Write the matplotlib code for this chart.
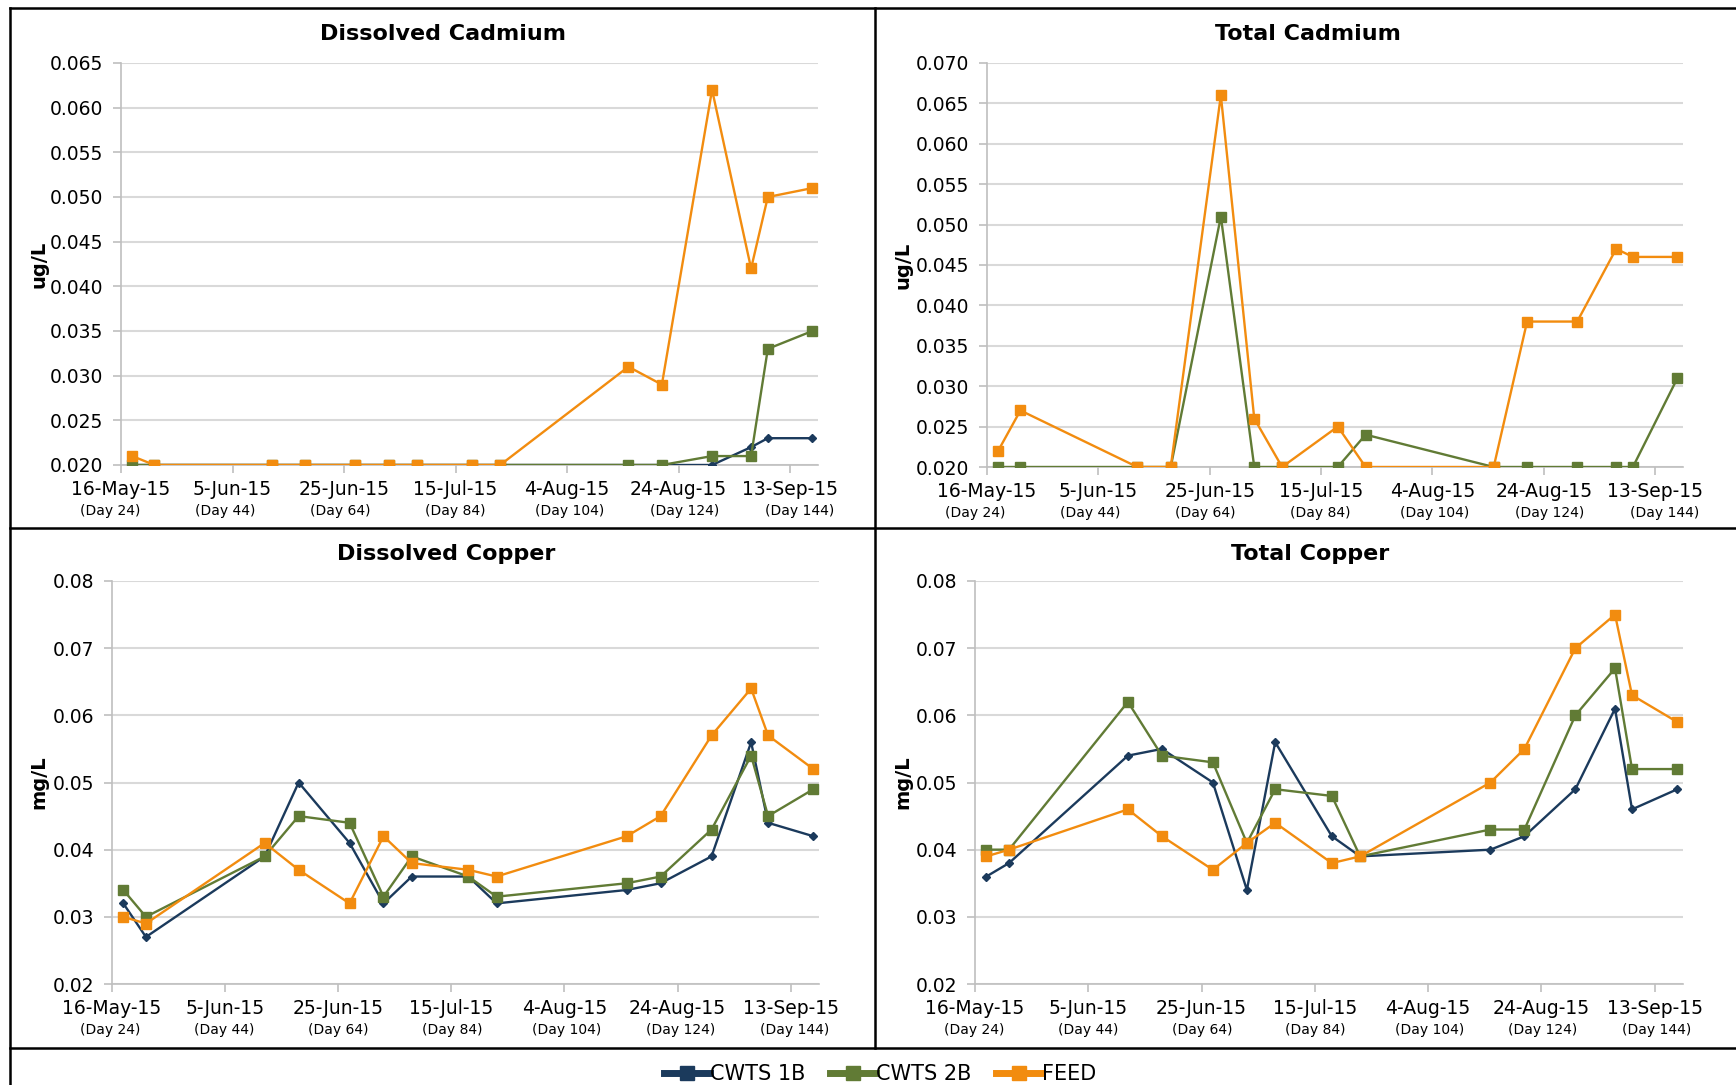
import numpy as np
import matplotlib.pyplot as plt
from matplotlib.lines import Line2D
from matplotlib.ticker import FormatStrFormatter, MultipleLocator

W, H = 1736, 1085

# sample days (Day 0 = 22-Apr-15)
days = [26, 30, 51, 57, 66, 72, 77, 87, 92, 115, 121, 130, 137, 140, 148]
tick_days = [24, 44, 64, 84, 104, 124, 144]
tick_dates = ['16-May-15', '5-Jun-15', '25-Jun-15', '15-Jul-15', '4-Aug-15', '24-Aug-15', '13-Sep-15']
day_labels = ['(Day %d)' % d for d in tick_days]
series_names = ['CWTS 1B', 'CWTS 2B', 'FEED']

nan = np.nan

# Dissolved Cadmium (ug/L)
dcd_1b = [0.020, 0.020, 0.020, 0.020, 0.020, 0.020, 0.020, 0.020, 0.020, 0.020, 0.020, 0.020, 0.022, 0.023, 0.023]
dcd_2b = [0.020, 0.020, 0.020, 0.020, 0.020, 0.020, 0.020, 0.020, 0.020, 0.020, 0.020, 0.021, 0.021, 0.033, 0.035]
dcd_feed = [0.021, 0.020, 0.020, 0.020, 0.020, 0.020, 0.020, 0.020, 0.020, 0.031, 0.029, 0.062, 0.042, 0.050, 0.051]

# Total Cadmium (ug/L) - no CWTS 1B values
tcd_1b = [nan] * 15
tcd_2b = [0.020, 0.020, 0.020, 0.020, 0.051, 0.020, 0.020, 0.020, 0.024, 0.020, 0.020, 0.020, 0.020, 0.020, 0.031]
tcd_feed = [0.022, 0.027, 0.020, 0.020, 0.066, 0.026, 0.020, 0.025, 0.020, 0.020, 0.038, 0.038, 0.047, 0.046, 0.046]

# Dissolved Copper (mg/L)
dcu_1b = [0.032, 0.027, 0.039, 0.050, 0.041, 0.032, 0.036, 0.036, 0.032, 0.034, 0.035, 0.039, 0.056, 0.044, 0.042]
dcu_2b = [0.034, 0.030, 0.039, 0.045, 0.044, 0.033, 0.039, 0.036, 0.033, 0.035, 0.036, 0.043, 0.054, 0.045, 0.049]
dcu_feed = [0.030, 0.029, 0.041, 0.037, 0.032, 0.042, 0.038, 0.037, 0.036, 0.042, 0.045, 0.057, 0.064, 0.057, 0.052]

# Total Copper (mg/L)
tcu_1b = [0.036, 0.038, 0.054, 0.055, 0.050, 0.034, 0.056, 0.042, 0.039, 0.040, 0.042, 0.049, 0.061, 0.046, 0.049]
tcu_2b = [0.040, 0.040, 0.062, 0.054, 0.053, 0.041, 0.049, 0.048, 0.039, 0.043, 0.043, 0.060, 0.067, 0.052, 0.052]
tcu_feed = [0.039, 0.040, 0.046, 0.042, 0.037, 0.041, 0.044, 0.038, 0.039, 0.050, 0.055, 0.070, 0.075, 0.063, 0.059]

NAVY = '#1b3a5c'
GREEN = '#617b35'
ORANGE = '#f28c0f'
GRID = '#d9d9d9'
AXC = '#bfbfbf'

plt.rcParams['font.family'] = 'DejaVu Sans'

fig = plt.figure(figsize=(W / 100, H / 100), dpi=100)


def rect(x0, y0, x1, y1):
    return [x0 / W, 1 - y1 / H, (x1 - x0) / W, (y1 - y0) / H]


def panel(box, title, title_xy, ylab, ylab_x, ylim, step, fmt, vals, day_span):
    ax = fig.add_axes(rect(*box))
    b1, b2, fd = vals
    ax.plot(days, b1, color=NAVY, lw=1.7, marker='D', ms=4, zorder=3)
    ax.plot(days, b2, color=GREEN, lw=1.7, marker='s', ms=6.5, zorder=4)
    ax.plot(days, fd, color=ORANGE, lw=1.7, marker='s', ms=6.5, zorder=5)
    ax.set_xlim(24, 149)
    ax.set_ylim(*ylim)
    ax.yaxis.set_major_locator(MultipleLocator(step))
    ax.yaxis.set_major_formatter(FormatStrFormatter(fmt))
    ax.set_xticks(tick_days, tick_dates)
    ax.grid(axis='y', color=GRID, lw=1.5)
    ax.set_axisbelow(True)
    for s in ['top', 'right']:
        ax.spines[s].set_visible(False)
    for s in ['left', 'bottom']:
        ax.spines[s].set_color(AXC)
        ax.spines[s].set_linewidth(1.2)
    ax.tick_params(axis='both', colors=AXC, labelcolor='black', length=6, width=1.2, labelsize=13.5)
    ax.tick_params(axis='y', pad=7)
    ax.tick_params(axis='x', pad=5)
    ah = box[3] - box[1]
    for f, lab in zip(np.linspace(day_span[0], day_span[1], len(day_labels)), day_labels):
        ax.text(f, -46 / ah, lab, transform=ax.transAxes, ha='center', va='center', fontsize=10)
    fig.text(title_xy[0] / W, 1 - title_xy[1] / H, title, ha='center', va='center',
             fontsize=16, fontweight='bold')
    fig.text(ylab_x / W, 1 - (box[1] + box[3]) / 2 / H, ylab, rotation=90, ha='center', va='center',
             fontsize=14, fontweight='bold')
    return ax


panel((121, 63, 818, 465), 'Dissolved Cadmium', (443, 34), 'ug/L', 39, (0.020, 0.065), 0.005, '%.3f',
      (dcd_1b, dcd_2b, dcd_feed), (-0.016, 0.974))
panel((987, 63, 1683, 467), 'Total Cadmium', (1308, 34), 'ug/L', 903, (0.020, 0.070), 0.005, '%.3f',
      (tcd_1b, tcd_2b, tcd_feed), (-0.017, 0.974))
panel((112, 581, 819, 984), 'Dissolved Copper', (446, 554), 'mg/L', 39, (0.02, 0.08), 0.01, '%.2f',
      (dcu_1b, dcu_2b, dcu_feed), (-0.003, 0.965))
panel((975, 581, 1683, 984), 'Total Copper', (1310, 554), 'mg/L', 903, (0.02, 0.08), 0.01, '%.2f',
      (tcu_1b, tcu_2b, tcu_feed), (-0.001, 0.963))


def hline(y, x0, x1):
    fig.add_artist(Line2D([x0 / W, x1 / W], [1 - y / H, 1 - y / H], color='black', lw=1.8))


def vline(x, y0, y1):
    fig.add_artist(Line2D([x / W, x / W], [1 - y0 / H, 1 - y1 / H], color='black', lw=1.8))


hline(8, 10, W)
hline(528, 10, W)
hline(1048, 10, W)
vline(10, 8, H)
vline(875, 8, 1048)

handles = [Line2D([], [], color=c, lw=5, marker='s', ms=10) for c in (NAVY, GREEN, ORANGE)]
fig.legend(handles, series_names, loc='center', bbox_to_anchor=(880 / W, 1 - 1074 / H), ncol=3,
           frameon=False, fontsize=15, handlelength=2.2, handletextpad=0.0, columnspacing=1.2,
           borderpad=0)

fig.savefig('out.png', dpi=100)
